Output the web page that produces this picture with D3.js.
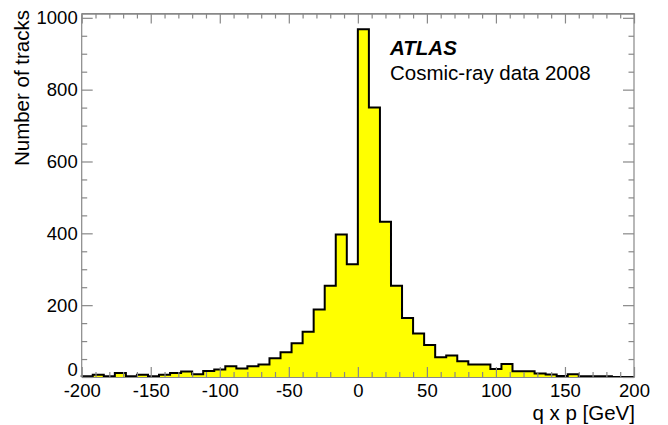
<!DOCTYPE html>
<html>
<head>
<meta charset="utf-8">
<script src="https://cdn.jsdelivr.net/npm/d3@7"></script>
<style>
  html, body { margin: 0; padding: 0; background: #fff; }
  svg { display: block; }
  text { font-family: "Liberation Sans", Arial, Helvetica, sans-serif; fill: #000; }
</style>
</head>
<body>
<svg id="chart" width="668" height="425"></svg>
<script>
// ---- data ----
const binEdgesStart = -200;
const binWidth = 8;
const counts = [
  2, 6, 2, 11, 2, 6, 2, 6, 11,            // -200 .. -128
  15, 8, 17, 21, 30, 24, 30, 35, 52,      // -128 .. -56
  69, 94, 126, 188, 254, 397, 314,        // -56 .. 0
  968, 750, 432, 254, 164, 121, 89, 55,   // 0 .. 64
  60, 44, 35, 35, 22, 36, 16, 16,         // 64 .. 128
  10, 7, 3, 8, 2, 2, 2, 0, 0              // 128 .. 200
];
const xTicks = [-200, -150, -100, -50, 0, 50, 100, 150, 200];
const yTicks = [0, 200, 400, 600, 800, 1000];
const xDomain = [-200, 200];
const yDomain = [0, 1012];
const xTitle = "q x p [GeV]";
const yTitle = "Number of tracks";
const label1 = "ATLAS";
const label2 = "Cosmic-ray data 2008";

// ---- layout ----
const svg = d3.select("#chart");
const L = 81.7, R = 634, T = 13.5, B = 377;
const x = d3.scaleLinear().domain(xDomain).range([L, R]);
const y = d3.scaleLinear().domain(yDomain).range([B, T]);

const bins = counts.map((c, i) => ({
  x0: binEdgesStart + i * binWidth,
  x1: binEdgesStart + (i + 1) * binWidth,
  v: c
}));

// step points
const pts = [[xDomain[0], 0]];
bins.forEach(b => { pts.push([b.x0, b.v]); pts.push([b.x1, b.v]); });
pts.push([xDomain[1], 0]);

const area = d3.area().x(d => x(d[0])).y0(y(0)).y1(d => y(d[1]));
const line = d3.line().x(d => x(d[0])).y(d => y(d[1]));

svg.append("path").attr("d", area(pts)).attr("fill", "#ffff00").attr("stroke", "none");
svg.append("path").attr("d", line(pts)).attr("fill", "none")
  .attr("stroke", "#000").attr("stroke-width", 2).attr("stroke-linejoin", "miter");

// ---- axes ----
const axisColor = "#888";
const minorX = d3.range(-200, 201, 10).filter(v => v % 50 !== 0);
const minorY = d3.range(0, 1001, 50).filter(v => v % 200 !== 0);

function style(g, showText) {
  g.select(".domain").attr("stroke", axisColor).attr("stroke-width", 1.2);
  g.selectAll(".tick line").attr("stroke", axisColor).attr("stroke-width", 1.2);
  g.selectAll(".tick text").attr("font-size", 18.5)
    .attr("font-family", "Liberation Sans, Arial, sans-serif")
    .attr("fill", "#000");
  if (!showText) g.selectAll(".tick text").remove();
}

// frame top line (full range)
svg.append("line").attr("x1", L).attr("x2", R).attr("y1", T).attr("y2", T)
  .attr("stroke", axisColor).attr("stroke-width", 1.2);

// bottom
const gB = svg.append("g").attr("transform", `translate(0,${B})`)
  .call(d3.axisBottom(x).tickValues(xTicks).tickSizeInner(-10).tickSizeOuter(0).tickPadding(6.5)
    .tickFormat(d3.format("d")));
style(gB, true);
gB.selectAll(".tick text").text(d => String(d));
const gBm = svg.append("g").attr("transform", `translate(0,${B})`)
  .call(d3.axisBottom(x).tickValues(minorX).tickSizeInner(-5).tickSizeOuter(0).tickFormat(""));
style(gBm, false);
// top
const gT = svg.append("g").attr("transform", `translate(0,${T})`)
  .call(d3.axisTop(x).tickValues(xTicks).tickSizeInner(-10).tickSizeOuter(0).tickFormat(""));
style(gT, false);
const gTm = svg.append("g").attr("transform", `translate(0,${T})`)
  .call(d3.axisTop(x).tickValues(minorX).tickSizeInner(-5).tickSizeOuter(0).tickFormat(""));
style(gTm, false);
// left
const gL = svg.append("g").attr("transform", `translate(${L},0)`)
  .call(d3.axisLeft(y).tickValues(yTicks).tickSizeInner(-11).tickSizeOuter(0).tickPadding(4)
    .tickFormat(d3.format("d")));
style(gL, true);
gL.selectAll(".tick text").filter(d => d === 0).attr("dy", "-0.06em");
gL.select(".domain").attr("d", `M0,${B}V${T}`);
const gLm = svg.append("g").attr("transform", `translate(${L},0)`)
  .call(d3.axisLeft(y).tickValues(minorY).tickSizeInner(-5.5).tickSizeOuter(0).tickFormat(""));
style(gLm, false);
gLm.select(".domain").remove();
// right
const gR = svg.append("g").attr("transform", `translate(${R},0)`)
  .call(d3.axisRight(y).tickValues(yTicks).tickSizeInner(-11).tickSizeOuter(0).tickFormat(""));
style(gR, false);
gR.select(".domain").attr("d", `M0,${B}V${T}`);
const gRm = svg.append("g").attr("transform", `translate(${R},0)`)
  .call(d3.axisRight(y).tickValues(minorY).tickSizeInner(-5.5).tickSizeOuter(0).tickFormat(""));
style(gRm, false);
gRm.select(".domain").remove();

// ---- titles ----
svg.append("text").attr("x", R + 1).attr("y", 420).attr("text-anchor", "end")
  .attr("font-size", 20.5).text(xTitle);
svg.append("text").attr("transform", "translate(29,10) rotate(-90)")
  .attr("text-anchor", "end").attr("font-size", 20.5).text(yTitle);

svg.append("text").attr("x", 390).attr("y", 55).attr("font-size", 20.5)
  .attr("font-weight", "bold").attr("font-style", "italic").text(label1);
svg.append("text").attr("x", 390).attr("y", 80).attr("font-size", 20.5).text(label2);
</script>
</body>
</html>
